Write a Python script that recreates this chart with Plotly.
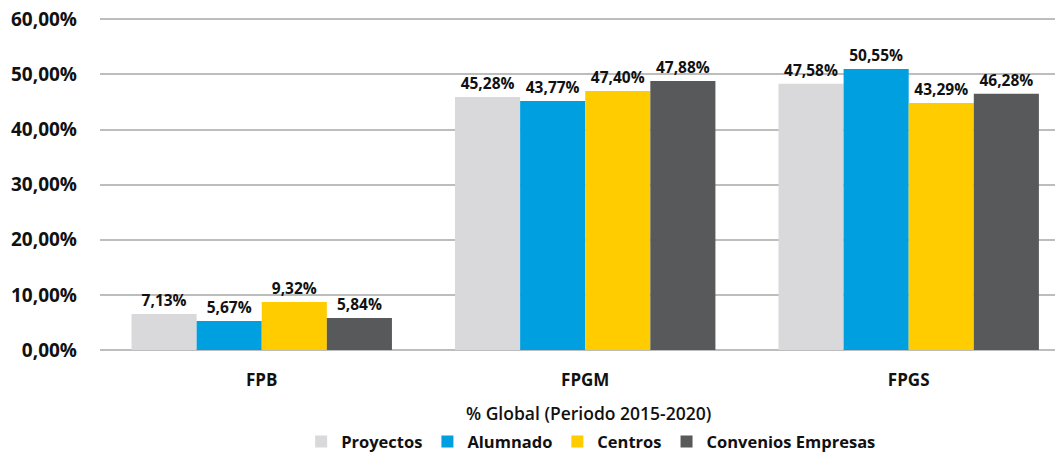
import plotly.graph_objects as go

categories = ["FPB", "FPGM", "FPGS"]
series_names = ["Proyectos", "Alumnado", "Centros", "Convenios Empresas"]
colors = ["#D9D9DB", "#009FDF", "#FFCC00", "#58595B"]

# bar heights as drawn (percent)
proyectos = [6.53, 45.9, 48.3]
alumnado = [5.26, 45.2, 51.0]
centros = [8.71, 47.0, 44.8]
convenios = [5.81, 48.8, 46.5]

# printed labels
lbl_proyectos = ["7,13%", "45,28%", "47,58%"]
lbl_alumnado = ["5,67%", "43,77%", "50,55%"]
lbl_centros = ["9,32%", "47,40%", "43,29%"]
lbl_convenios = ["5,84%", "47,88%", "46,28%"]

y_ticks = [0, 10, 20, 30, 40, 50, 60]
y_ticktext = ["0,00%", "10,00%", "20,00%", "30,00%", "40,00%", "50,00%", "60,00%"]

FONT = "Open Sans"

fig = go.Figure()
for name, vals, lbls, col in zip(series_names,
                                 [proyectos, alumnado, centros, convenios],
                                 [lbl_proyectos, lbl_alumnado, lbl_centros, lbl_convenios],
                                 colors):
    fig.add_trace(go.Bar(
        x=categories, y=vals, name=name, marker=dict(color=col, line=dict(width=0)),
        text=lbls, textposition="outside", cliponaxis=False,
        textfont=dict(family=FONT, size=15.5, color="#111111", weight="bold"),
    ))

# page body has an 8px margin, so the figure is sized/offset to compensate
fig.update_layout(
    width=1055, height=445,
    margin=dict(l=92, r=0, t=8, b=103, autoexpand=False),
    paper_bgcolor="white", plot_bgcolor="white",
    barmode="group", bargap=0.195, bargroupgap=0,
    font=dict(family=FONT, color="#111111"),
    showlegend=True,
    legend=dict(orientation="h", x=0.51, xanchor="center", y=-0.275, yanchor="middle",
                font=dict(family=FONT, size=16.5, color="#111111", weight="bold"),
                itemwidth=30, traceorder="normal"),
    uniformtext=dict(mode=False),
)
fig.update_xaxes(range=[-0.5, 2.477], showgrid=False, showline=False, zeroline=False,
                 ticks="", automargin=False,
                 tickfont=dict(family=FONT, size=17, color="#111111", weight="bold"),
                 ticklabelstandoff=18)
fig.update_yaxes(range=[0, 60.6], tickvals=y_ticks, ticktext=y_ticktext,
                 showgrid=True, gridcolor="#BDBDBD", gridwidth=2,
                 zeroline=True, zerolinecolor="#BDBDBD", zerolinewidth=2,
                 showline=False, ticks="", ticklabelstandoff=22, automargin=False,
                 ticklabeloverflow="allow",
                 tickfont=dict(family=FONT, size=19, color="#111111", weight="bold"))

fig.add_annotation(text="% Global (Periodo 2015-2020)", xref="paper", yref="paper",
                   x=0.507, y=-0.189, xanchor="center", yanchor="middle", showarrow=False,
                   font=dict(family=FONT, size=17.5, color="#111111", weight=600))

fig.write_html("out.html")
